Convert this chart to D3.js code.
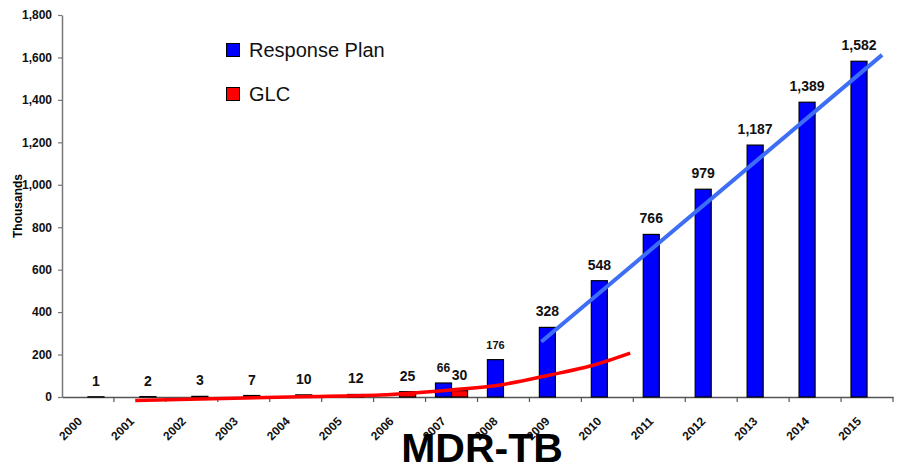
<!DOCTYPE html>
<html>
<head>
<meta charset="utf-8">
<script src="https://cdn.jsdelivr.net/npm/d3@7"></script>
<style>
  body { margin: 0; background: #fff; }
  svg { display: block; font-family: "Liberation Sans", Arial, sans-serif; }
</style>
</head>
<body>
<script>
// --- Data ---
var years = ["2000", "2001", "2002", "2003", "2004", "2005", "2006", "2007",
             "2008", "2009", "2010", "2011", "2012", "2013", "2014", "2015"];
var responsePlan = [null, null, null, null, null, null, null, 66,
                    176, 328, 548, 766, 979, 1187, 1389, 1582];
var glc = [1, 2, 3, 7, 10, 12, 25, 30,
           null, null, null, null, null, null, null, null];
var yTicks = [0, 200, 400, 600, 800, 1000, 1200, 1400, 1600, 1800];

// trend lines (x in fractional years)
var rpTrendYears = [2008.73, 2015.29];
var rpTrendValues = [260, 1612];
var glcTrendYears = [2000.91, 2004.09, 2005.63, 2006.98, 2007.94, 2008.90, 2009.67, 2010.44];
var glcTrendValues = [-17, 1, 9, 33, 57, 104, 146, 207];

var seriesNames = ["Response Plan", "GLC"];
var seriesColors = ["#0000ff", "#ff0000"];

window.onload = function() {
    var w = 909, h = 474;
    var mLeft = 62, mRight = 893, mTop = 15, mBottom = 397;

    var svg = d3.select("body").append("svg")
        .attr("width", w)
        .attr("height", h);

    // --- Scales ---
    var x = d3.scaleBand()
        .domain(years)
        .range([mLeft, mRight])
        .paddingInner(0)
        .paddingOuter(0);

    var sub = d3.scaleBand()
        .domain(seriesNames)
        .range([0, x.bandwidth()])
        .paddingInner(0)
        .paddingOuter(0.62);

    // continuous year scale, band centers line up with x
    var xYear = d3.scaleLinear()
        .domain([2000, 2015])
        .range([mLeft + x.bandwidth() / 2, mRight - x.bandwidth() / 2]);

    var y = d3.scaleLinear()
        .domain([0, 1800])
        .range([mBottom, mTop]);

    // --- Y axis ---
    var yAxis = svg.append("g")
        .attr("transform", "translate(" + mLeft + ",0)")
        .call(d3.axisLeft(y).tickValues(yTicks).tickFormat(d3.format(","))
            .tickSize(4).tickSizeOuter(0).tickPadding(6));
    yAxis.select(".domain").attr("stroke", "#777").attr("stroke-width", 1.5);
    yAxis.selectAll(".tick line").attr("stroke", "#777").attr("stroke-width", 1.2);
    yAxis.selectAll("text")
        .attr("font-size", 12)
        .attr("font-weight", "bold")
        .attr("fill", "#111")
        .attr("font-family", "Liberation Sans, Arial, sans-serif");

    svg.append("text")
        .attr("transform", "translate(22,206) rotate(-90)")
        .attr("text-anchor", "middle")
        .attr("font-size", 12)
        .attr("font-weight", "bold")
        .text("Thousands");

    // --- X axis ---
    var xAxis = svg.append("g")
        .attr("transform", "translate(0," + mBottom + ")")
        .call(d3.axisBottom(x).tickSize(0).tickSizeOuter(0).tickPadding(0));
    xAxis.select(".domain").attr("stroke", "#555").attr("stroke-width", 1.5);
    xAxis.selectAll(".tick text")
        .attr("text-anchor", "end")
        .attr("font-size", 12)
        .attr("font-weight", "bold")
        .attr("fill", "#111")
        .attr("font-family", "Liberation Sans, Arial, sans-serif")
        .attr("dy", null)
        .attr("y", 0)
        .attr("transform", "translate(-5,25) rotate(-45)");

    // boundary ticks
    xAxis.selectAll(".bound")
        .data(years.slice(1).concat(["end"]))
        .enter().append("line")
        .attr("class", "bound")
        .attr("x1", function(d) { return d === "end" ? mRight : x(d); })
        .attr("x2", function(d) { return d === "end" ? mRight : x(d); })
        .attr("y1", 0)
        .attr("y2", 5)
        .attr("stroke", "#555")
        .attr("stroke-width", 1.2);

    // --- Bars ---
    var series = [responsePlan, glc];
    series.forEach(function(vals, si) {
        var name = seriesNames[si];
        var pts = years.map(function(yr, i) { return { year: yr, value: vals[i] }; })
            .filter(function(d) { return d.value !== null; });

        svg.selectAll(".bar" + si)
            .data(pts)
            .enter().append("rect")
            .attr("class", "bar" + si)
            .attr("x", function(d) { return x(d.year) + sub(name); })
            .attr("y", function(d) { return y(d.value); })
            .attr("width", sub.bandwidth())
            .attr("height", function(d) { return mBottom - y(d.value); })
            .attr("fill", seriesColors[si])
            .attr("stroke", "#000")
            .attr("stroke-width", 1.2);
    });

    // --- Trend lines ---
    var trend = d3.line()
        .x(function(d) { return xYear(d[0]); })
        .y(function(d) { return y(d[1]); });

    svg.append("path")
        .datum(d3.zip(glcTrendYears, glcTrendValues))
        .attr("d", trend.curve(d3.curveMonotoneX))
        .attr("fill", "none")
        .attr("stroke", "#ff0000")
        .attr("stroke-width", 3.5);

    svg.append("path")
        .datum(d3.zip(rpTrendYears, rpTrendValues))
        .attr("d", trend.curve(d3.curveLinear))
        .attr("fill", "none")
        .attr("stroke", "#3d6ef5")
        .attr("stroke-width", 4);

    // --- Value labels ---
    var fmt = d3.format(",");
    series.forEach(function(vals, si) {
        var name = seriesNames[si];
        var pts = years.map(function(yr, i) { return { year: yr, value: vals[i] }; })
            .filter(function(d) { return d.value !== null; });

        svg.selectAll(".lab" + si)
            .data(pts)
            .enter().append("text")
            .attr("class", "lab" + si)
            .attr("text-anchor", "middle")
            .attr("x", function(d) { return x(d.year) + sub(name) + sub.bandwidth() / 2; })
            .attr("y", function(d) { return y(d.value) - 11; })
            .attr("font-size", function(d) {
                if (si === 0 && d.value < 100) return 12;
                if (si === 0 && d.value < 200) return 11;
                return 14;
            })
            .attr("font-weight", "bold")
            .attr("fill", "#111")
            .text(function(d) { return fmt(d.value); });
    });

    // --- Legend ---
    var legend = svg.append("g");
    seriesNames.forEach(function(n, i) {
        legend.append("rect")
            .attr("x", 226.5)
            .attr("y", 43.5 + i * 44)
            .attr("width", 13)
            .attr("height", 13)
            .attr("fill", seriesColors[i])
            .attr("stroke", "#000")
            .attr("stroke-width", 1);
        legend.append("text")
            .attr("x", 249)
            .attr("y", 57 + i * 44)
            .attr("font-size", 20)
            .attr("fill", "#111")
            .text(n);
    });

    // --- Title ---
    svg.append("text")
        .attr("x", 482)
        .attr("y", 462)
        .attr("text-anchor", "middle")
        .attr("font-size", 41)
        .attr("font-weight", "bold")
        .attr("fill", "#000")
        .text("MDR-TB");
};
</script>
</body>
</html>
